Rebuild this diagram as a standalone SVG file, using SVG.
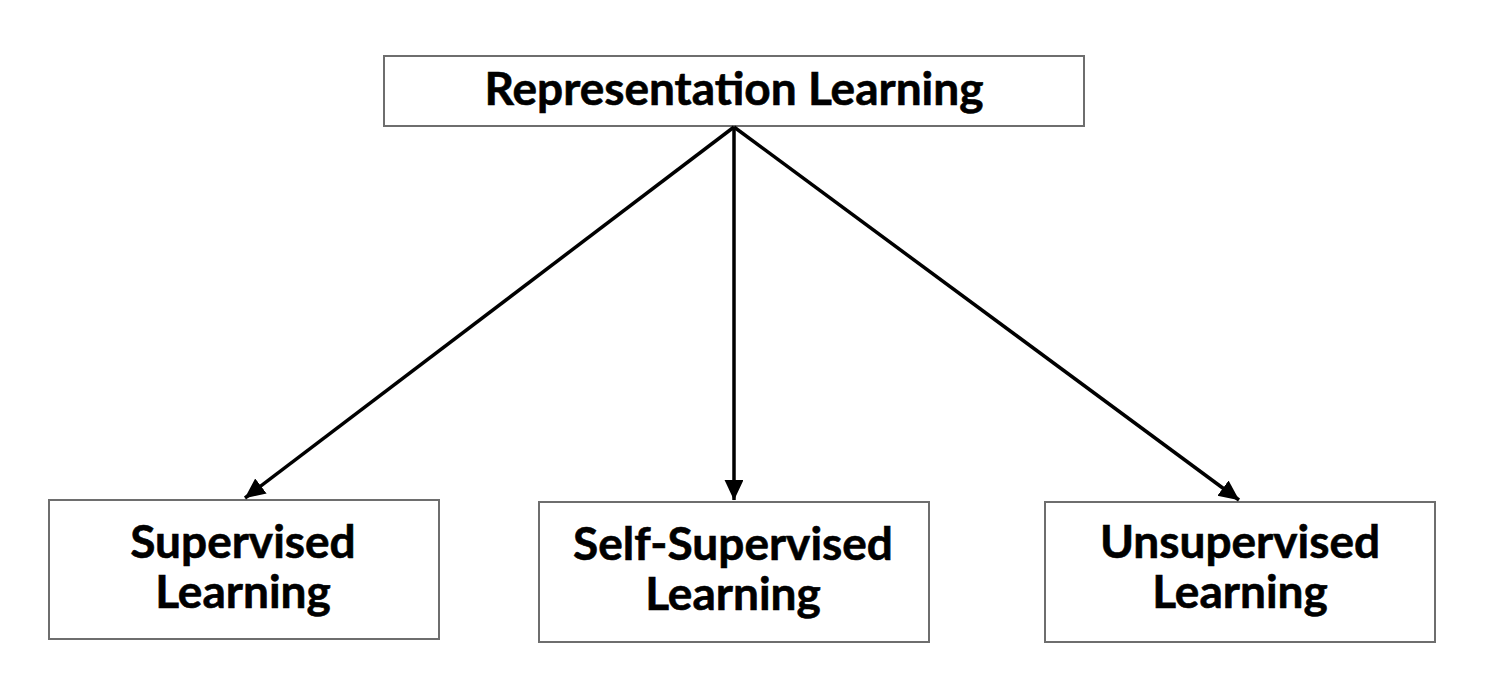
<svg xmlns="http://www.w3.org/2000/svg" width="1496" height="684" viewBox="0 0 1496 684">
<style>
.box{fill:#fff;stroke:#6e6e6e;stroke-width:2}
.t{font-family:Lato,"Open Sans","Liberation Sans",sans-serif;font-weight:bold;font-size:46px;fill:#000;text-anchor:middle;stroke:#000;stroke-width:0.6}
.c{stroke:#000;stroke-width:3.5;fill:none}
</style>
<defs>
<marker id="ah" markerWidth="6" markerHeight="6" refX="5.7" refY="2.7" orient="auto" markerUnits="strokeWidth">
<path d="M0,0 L5.8,2.7 L0,5.4 z" fill="#000"/>
</marker>
</defs>
<rect width="1496" height="684" fill="#fff"/>
<g id="n-root">
<rect class="box" x="384" y="56" width="700" height="70"/>
<text class="t" x="734" y="105">Representation Learning</text>
</g>
<g id="n-sup">
<rect class="box" x="49" y="500" width="390" height="139"/>
<text class="t" x="243" y="558">Supervised</text>
<text class="t" x="243" y="608">Learning</text>
</g>
<g id="n-self">
<rect class="box" x="539" y="502" width="390" height="140"/>
<text class="t" x="733" y="560">Self-Supervised</text>
<text class="t" x="733" y="610">Learning</text>
</g>
<g id="n-unsup">
<rect class="box" x="1045" y="502" width="390" height="140"/>
<text class="t" x="1240" y="558">Unsupervised</text>
<text class="t" x="1240" y="608">Learning</text>
</g>
<g id="connectors">
<line class="c" x1="734" y1="127" x2="245" y2="498" marker-end="url(#ah)"/>
<line class="c" x1="734" y1="127" x2="734" y2="500" marker-end="url(#ah)"/>
<line class="c" x1="734" y1="127" x2="1239" y2="500" marker-end="url(#ah)"/>
</g>
</svg>
